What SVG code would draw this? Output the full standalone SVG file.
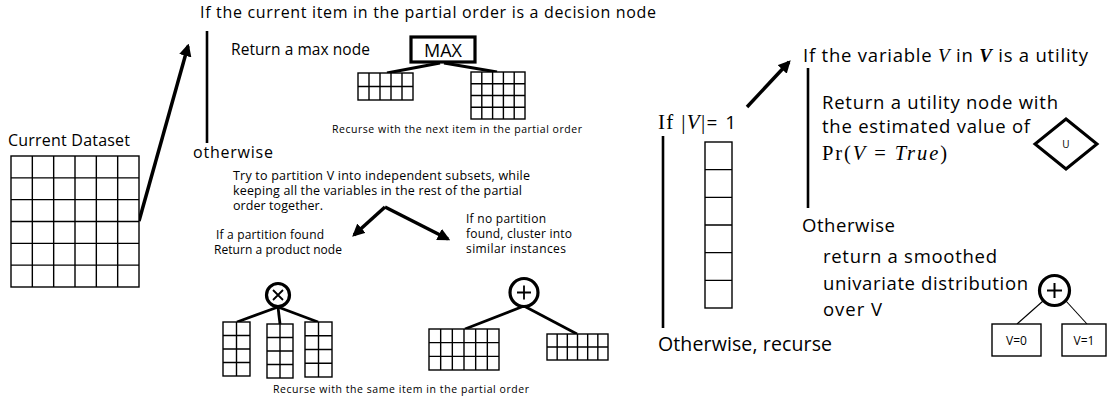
<svg xmlns="http://www.w3.org/2000/svg" width="1107" height="408" viewBox="0 0 1107 408">
<style>
text{font-family:"Open Sans","Noto Sans","Liberation Sans",sans-serif;fill:#000}
.l{font-size:16px}
.r{font-size:18.5px}
.m{font-size:12.5px}
.p{font-size:12px}
.s{font-size:10.5px}
.math{font-family:"Liberation Serif","DejaVu Serif",serif}
.g{fill:#fff;stroke:#000;stroke-width:1.4}
.gl{fill:none;stroke:#000;stroke-width:1.4}
.thick{fill:none;stroke:#000;stroke-width:3.5}
.med{fill:none;stroke:#000;stroke-width:2.8}
.vline{fill:none;stroke:#000;stroke-width:2.6}
.thin{fill:none;stroke:#000;stroke-width:1.1}
.node{fill:#fff;stroke:#000;stroke-width:3.2}
</style>
<defs>
<marker id="ah" viewBox="0 0 10 10" refX="8" refY="5" markerWidth="3.6" markerHeight="3.6" orient="auto" markerUnits="strokeWidth">
<path d="M0,0 L10,5 L0,10 z" fill="#000"/>
</marker>
</defs>

<g id="connectors">
<line class="thick" x1="139" y1="221" x2="188" y2="46" marker-end="url(#ah)"/>
<line class="vline" x1="207" y1="31" x2="207" y2="143"/>
<line class="thick" x1="385" y1="207" x2="354" y2="235" marker-end="url(#ah)"/>
<line class="thick" x1="385" y1="207" x2="448" y2="239" marker-end="url(#ah)"/>
<line class="thick" x1="747" y1="107" x2="789" y2="62" marker-end="url(#ah)"/>
<line class="vline" x1="663" y1="136" x2="663" y2="328"/>
<line class="vline" x1="808" y1="68" x2="808" y2="208"/>
<line class="med" x1="440" y1="63" x2="387" y2="73"/>
<line class="med" x1="444" y1="63" x2="497" y2="72"/>
<line class="med" x1="278" y1="307" x2="237" y2="322"/>
<line class="med" x1="278" y1="307" x2="280" y2="324"/>
<line class="med" x1="278" y1="307" x2="318" y2="322"/>
<line class="med" x1="524" y1="306" x2="465" y2="329"/>
<line class="med" x1="524" y1="306" x2="577" y2="334"/>
<line class="thin" x1="1043" y1="301" x2="1017" y2="324"/>
<line class="thin" x1="1066" y1="301" x2="1087" y2="324"/>
</g>

<g id="current-dataset">
<text class="l" x="8" y="146" textLength="122">Current Dataset</text>
<rect class="g" x="11" y="156" width="128" height="131"/>
<path class="gl" d="M32.33,156V287M53.67,156V287M75,156V287M96.33,156V287M117.67,156V287M11,177.83H139M11,199.67H139M11,221.5H139M11,243.33H139M11,265.17H139"/>
</g>

<g id="decision-branch">
<text class="l" x="200" y="18" textLength="456">If the current item in the partial order is a decision node</text>
<text x="231" y="55" textLength="139" font-size="15.5">Return a max node</text>
<text class="s" x="332" y="133" textLength="250">Recurse with the next item in the partial order</text>
</g>

<g id="max-node">
<rect x="411" y="37" width="64" height="25" fill="#fff" stroke="#000" stroke-width="3.2"/>
<text x="443" y="57" text-anchor="middle" font-size="18">MAX</text>
</g>

<g id="max-grid-left">
<rect class="g" x="358" y="73" width="55" height="27"/>
<path class="gl" d="M369,73V100M380,73V100M391,73V100M402,73V100M358,86.5H413"/>
</g>

<g id="max-grid-right">
<rect class="g" x="471" y="72" width="54" height="47"/>
<path class="gl" d="M481.8,72V119M492.6,72V119M503.4,72V119M514.2,72V119M471,83.75H525M471,95.5H525M471,107.25H525"/>
</g>

<g id="otherwise-branch">
<text class="l" x="193" y="158" textLength="80">otherwise</text>
<text class="m" x="233" y="180" textLength="297">Try to partition V into independent subsets, while</text>
<text class="m" x="233" y="195" textLength="289">keeping all the variables in the rest of the partial</text>
<text class="m" x="233" y="210" textLength="90">order together.</text>
<text class="p" x="216" y="239" textLength="108">If a partition found</text>
<text class="p" x="214" y="254" textLength="128">Return a product node</text>
<text class="p" x="466" y="223" textLength="80">If no partition</text>
<text class="p" x="466" y="238" textLength="106">found, cluster into</text>
<text class="p" x="466" y="253" textLength="100">similar instances</text>
<text class="s" x="273" y="393" textLength="256">Recurse with the same item in the partial order</text>
</g>

<g id="product-node">
<circle class="node" cx="278" cy="295" r="11.5"/>
<path d="M273,290L283,300M283,290L273,300" stroke="#000" stroke-width="1.8"/>
</g>

<g id="product-grids">
<rect class="g" x="223" y="322" width="27" height="54"/>
<path class="gl" d="M236.5,322V376M223,335.5H250M223,349H250M223,362.5H250"/>
<rect class="g" x="267" y="324" width="26" height="54"/>
<path class="gl" d="M280,324V378M267,337.5H293M267,351H293M267,364.5H293"/>
<rect class="g" x="305" y="322" width="27" height="55"/>
<path class="gl" d="M318.5,322V377M305,335.75H332M305,349.5H332M305,363.25H332"/>
</g>

<g id="sum-node">
<circle class="node" cx="524" cy="292.5" r="14"/>
<path d="M517,292.5H531M524,285.5V299.5" stroke="#000" stroke-width="1.8"/>
</g>

<g id="sum-grids">
<rect class="g" x="429" y="329" width="70" height="41"/>
<path class="gl" d="M440.67,329V370M452.33,329V370M464,329V370M475.67,329V370M487.33,329V370M429,342.67H499M429,356.33H499"/>
<rect class="g" x="547" y="334" width="61" height="26"/>
<path class="gl" d="M557.17,334V360M567.33,334V360M577.5,334V360M587.67,334V360M597.83,334V360M547,347H608"/>
</g>

<g id="single-var">
<text x="658" y="129" font-size="21" textLength="78"><tspan class="math">If |</tspan><tspan class="math" font-style="italic">V</tspan><tspan class="math">|</tspan><tspan font-size="19">= 1</tspan></text>
<rect class="g" x="705" y="142" width="27" height="166"/>
<path class="gl" d="M705,169.67H732M705,197.33H732M705,225H732M705,252.67H732M705,280.33H732"/>
<text x="658" y="351" textLength="174" font-size="19.5">Otherwise, recurse</text>
</g>

<g id="utility-branch">
<text class="r" x="803" y="62" textLength="285">If the variable <tspan class="math" font-style="italic" font-size="19">V</tspan> in <tspan class="math" font-style="italic" font-weight="bold" font-size="19">V</tspan> is a utility</text>
<text class="r" x="822" y="109" textLength="236">Return a utility node with</text>
<text class="r" x="822" y="133" textLength="208">the estimated value of</text>
<text class="math" x="822" y="160" font-size="20.5" textLength="125">Pr(<tspan font-style="italic">V</tspan> = <tspan font-style="italic">True</tspan>)</text>
</g>

<g id="utility-node">
<polygon points="1066,119 1097,144 1066,169 1035,144" fill="#fff" stroke="#000" stroke-width="3"/>
<text x="1066" y="148" text-anchor="middle" font-size="10">U</text>
</g>

<g id="otherwise-univariate">
<text class="r" x="802" y="232" textLength="93">Otherwise</text>
<text class="r" x="823" y="263" textLength="174">return a smoothed</text>
<text class="r" x="823" y="290" textLength="205">univariate distribution</text>
<text class="r" x="823" y="316" textLength="59">over V</text>
</g>

<g id="univariate-sum-node">
<circle class="node" cx="1054.5" cy="290.5" r="15"/>
<path d="M1047,290.5H1062M1054.5,283V298" stroke="#000" stroke-width="2"/>
</g>

<g id="v0">
<rect x="992" y="324" width="49" height="32" fill="#fff" stroke="#000" stroke-width="1.4"/>
<text x="1016.5" y="345" text-anchor="middle" font-size="12">V=0</text>
</g>
<g id="v1">
<rect x="1062" y="324" width="44" height="32" fill="#fff" stroke="#000" stroke-width="1.4"/>
<text x="1084" y="345" text-anchor="middle" font-size="12">V=1</text>
</g>
</svg>
